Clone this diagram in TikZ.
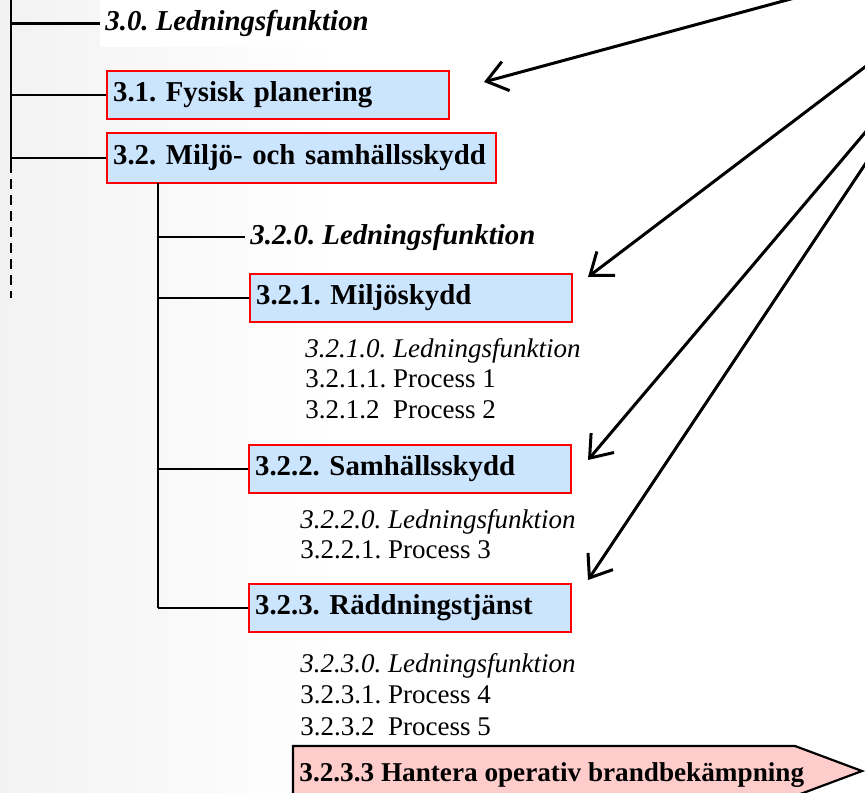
\documentclass[tikz,border=0pt]{standalone}
\usepackage{fontspec}
\setmainfont{Liberation Serif}
\usetikzlibrary{arrows.meta}
\definecolor{boxblue}{HTML}{CCE5FF}
\definecolor{boxred}{HTML}{FF0000}
\definecolor{signalpink}{HTML}{FFCCCC}
\frenchspacing

\begin{document}
\begin{tikzpicture}[x=0.5pt,y=-0.5pt,
  bigfont/.style={font=\fontsize{14.4}{17}\selectfont\bfseries},
  smallfont/.style={font=\fontsize{13.5}{15}\selectfont},
  box/.style={bigfont, draw=boxred, line width=1.1pt, fill=boxblue,
    anchor=north west, inner xsep=3pt, inner ysep=0pt, align=left,
    minimum height=24pt},
  headlbl/.style={font=\fontsize{14.4}{17}\selectfont\bfseries\itshape,
    anchor=west, inner xsep=2.5pt, inner ysep=0pt},
  item/.style={smallfont, anchor=base west, inner sep=0pt},
  tree/.style={line width=1.2pt, black},
  pointer/.style={line width=1.5pt, black,
    -{Straight Barb[length=10pt,width=15pt]}}
]
\useasboundingbox (0,0) rectangle (865,792);
\clip (0,0) rectangle (865,792);

% page background with a soft grey margin on the left
\fill[white] (0,0) rectangle (865,792);
\shade[left color=black!5, right color=white] (0,0) rectangle (340,792);

% level 3 headings
\node[headlbl, fill=white, minimum height=23.5pt] (lbl30) at (100,23.5)
  {3.0. Ledningsfunktion};
\node[box, text width=165pt] (b31) at (106,70) {\mbox{3.1. Fysisk planering}};
\node[box, text width=188.5pt, minimum height=25pt] (b32) at (106,132)
  {\mbox{3.2. Milj\"o- och samh\"allsskydd}};

% level 3.2 headings
\node[headlbl] (lbl320) at (245,237) {3.2.0. Ledningsfunktion};
\node[box, text width=155pt] (b321) at (249,273) {\mbox{3.2.1. Milj\"oskydd}};
\node[box, text width=155pt] (b322) at (248,444) {\mbox{3.2.2. Samh\"allsskydd}};
\node[box, text width=155pt] (b323) at (248,583) {\mbox{3.2.3. R\"addningstj\"anst}};

% processes
\node[item] (p3210) at (305,357) {\itshape 3.2.1.0. Ledningsfunktion};
\node[item] (p3211) at (305,387) {3.2.1.1. Process 1};
\node[item] (p3212) at (305,418) {3.2.1.2~~Process 2};

\node[item] (p3220) at (300,528) {\itshape 3.2.2.0. Ledningsfunktion};
\node[item] (p3221) at (300,558) {3.2.2.1. Process 3};

\node[item] (p3230) at (300,672) {\itshape 3.2.3.0. Ledningsfunktion};
\node[item] (p3231) at (300,703) {3.2.3.1. Process 4};
\node[item] (p3232) at (300,735) {3.2.3.2~~Process 5};

% highlighted process as an arrow-shaped banner
\draw[line width=1.1pt, fill=signalpink]
  (293,746) -- (795,746) -- (862,771) -- (795,796) -- (293,796) -- cycle;
\node[font=\fontsize{13.6}{15}\selectfont\bfseries,
  anchor=base west, inner sep=0pt] (b3233) at (299,781)
  {3.2.3.3 Hantera operativ brandbek\"ampning};

% main trunk
\coordinate (trunkTop) at (11,0);
\coordinate (trunkMid) at (11,163);
\coordinate (trunkEnd) at (11,298);
\draw[tree] (trunkTop) -- (trunkMid);
\draw[tree, dash pattern=on 5pt off 3pt] (trunkMid) -- (trunkEnd);
\draw[tree] (trunkTop |- lbl30.west) -- (lbl30.west);
\draw[tree] (trunkTop |- b31.west) -- (b31.west);
\draw[tree] (trunkTop |- b32.west) -- (b32.west);

% sub trunk below 3.2
\coordinate (subTop) at (158,183);
\draw[tree] (subTop) -- (subTop |- b323.west);
\draw[tree] (subTop |- lbl320.west) -- (lbl320.west);
\draw[tree] (subTop |- b321.west) -- (b321.west);
\draw[tree] (subTop |- b322.west) -- (b322.west);
\draw[tree] (subTop |- b323.west) -- (b323.west);

% pointers coming in from the upper right
\coordinate (src1) at (824,-10);
\coordinate (src2) at (890,48);
\coordinate (src3) at (885,109);
\coordinate (src4) at (880,142);
\coordinate (tip1) at (484,82);
\coordinate (tip2) at (588,277);
\coordinate (tip3) at (588,460);
\coordinate (tip4) at (588,580);
\draw[pointer] (src1) -- (tip1);
\draw[pointer] (src2) -- (tip2);
\draw[pointer] (src3) -- (tip3);
\draw[pointer] (src4) -- (tip4);
\end{tikzpicture}
\end{document}
